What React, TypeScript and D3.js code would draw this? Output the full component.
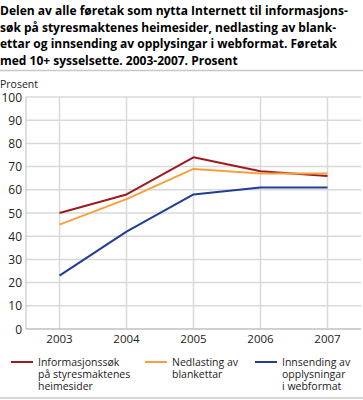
import React from 'react';
import * as d3 from 'd3';

const titleLines = [
  'Delen av alle føretak som nytta Internett til informasjons-',
  'søk på styresmaktenes heimesider, nedlasting av blank-',
  'ettar og innsending av opplysingar i webformat. Føretak',
  'med 10+ sysselsette. 2003-2007. Prosent',
];
const years = ['2003', '2004', '2005', '2006', '2007'];
const yTicks = [0, 10, 20, 30, 40, 50, 60, 70, 80, 90, 100];

const infoSok = [50, 58, 74, 68, 66];
const nedlasting = [45, 56, 69, 67, 67];
const innsending = [23, 42, 58, 61, 61];

const series = [
  { name: ['Informasjonssøk', 'på styresmaktenes', 'heimesider'], values: infoSok, color: '#9b1b22' },
  { name: ['Nedlasting av', 'blankettar'], values: nedlasting, color: '#f7a03c' },
  { name: ['Innsending av', 'opplysningar', 'i webformat'], values: innsending, color: '#203e92' },
];

const W = 363;
const H = 400;
const margin = { left: 26, right: 2, top: 97, bottom: 71 };
const font = '"Open Sans", sans-serif';

export default function App() {
  const x = d3.scaleBand<string>()
    .domain(years)
    .range([margin.left, W - margin.right]);
  const y = d3.scaleLinear()
    .domain([0, 100])
    .range([H - margin.bottom, margin.top]);

  const cx = (d: string) => (x(d) ?? 0) + x.bandwidth() / 2;
  const line = d3.line<number>()
    .x((_, i) => cx(years[i]))
    .y(d => y(d));

  const legendX = [11, 145, 255];

  return (
    <svg width={W} height={H} style={{ position: 'absolute', left: 0, top: 0 }} fontFamily={font}>
      {titleLines.map((t, i) => (
        <text key={i} x={0} y={15 + i * 16.5} fontSize={12} fontWeight={700} fill="#000">{t}</text>
      ))}
      <line x1={0} x2={W} y1={70.5} y2={70.5} stroke="#c8c8c8" strokeWidth={1.5} />

      <text x={0} y={88} fontSize={10.5} fill="#222">Prosent</text>

      {/* grid */}
      {yTicks.map(t => (
        <line key={'h' + t} x1={margin.left} x2={W - margin.right} y1={y(t)} y2={y(t)} stroke="#d9d9d9" strokeWidth={1.5} />
      ))}
      {years.map(yr => (
        <line key={'v' + yr} x1={cx(yr)} x2={cx(yr)} y1={margin.top} y2={y(0)} stroke="#d9d9d9" strokeWidth={1.5} />
      ))}
      <line x1={margin.left} x2={margin.left} y1={margin.top} y2={y(0)} stroke="#bdbdbd" strokeWidth={1} />
      <line x1={margin.left} x2={W - margin.right} y1={y(0)} y2={y(0)} stroke="#bdbdbd" strokeWidth={1} />

      {yTicks.map(t => (
        <text key={'yt' + t} x={22} y={y(t) + 4.5} fontSize={12} textAnchor="end" fill="#222">{t}</text>
      ))}
      {years.map(yr => (
        <text key={'xt' + yr} x={cx(yr)} y={343} fontSize={11.5} textAnchor="middle" fill="#222">{yr}</text>
      ))}

      {series.map(s => (
        <path key={s.name[0]} d={line(s.values) ?? ''} fill="none" stroke={s.color} strokeWidth={2} strokeLinejoin="round" />
      ))}

      {series.map((s, i) => (
        <g key={'lg' + i} transform={`translate(${legendX[i]},0)`}>
          <line x1={0} x2={22} y1={362} y2={362} stroke={s.color} strokeWidth={2} />
          {s.name.map((n, j) => (
            <text key={j} x={27} y={365.5 + j * 12} fontSize={10.5} fill="#222">{n}</text>
          ))}
        </g>
      ))}

      <line x1={0} x2={W} y1={398} y2={398} stroke="#c8c8c8" strokeWidth={1.5} />
    </svg>
  );
}
